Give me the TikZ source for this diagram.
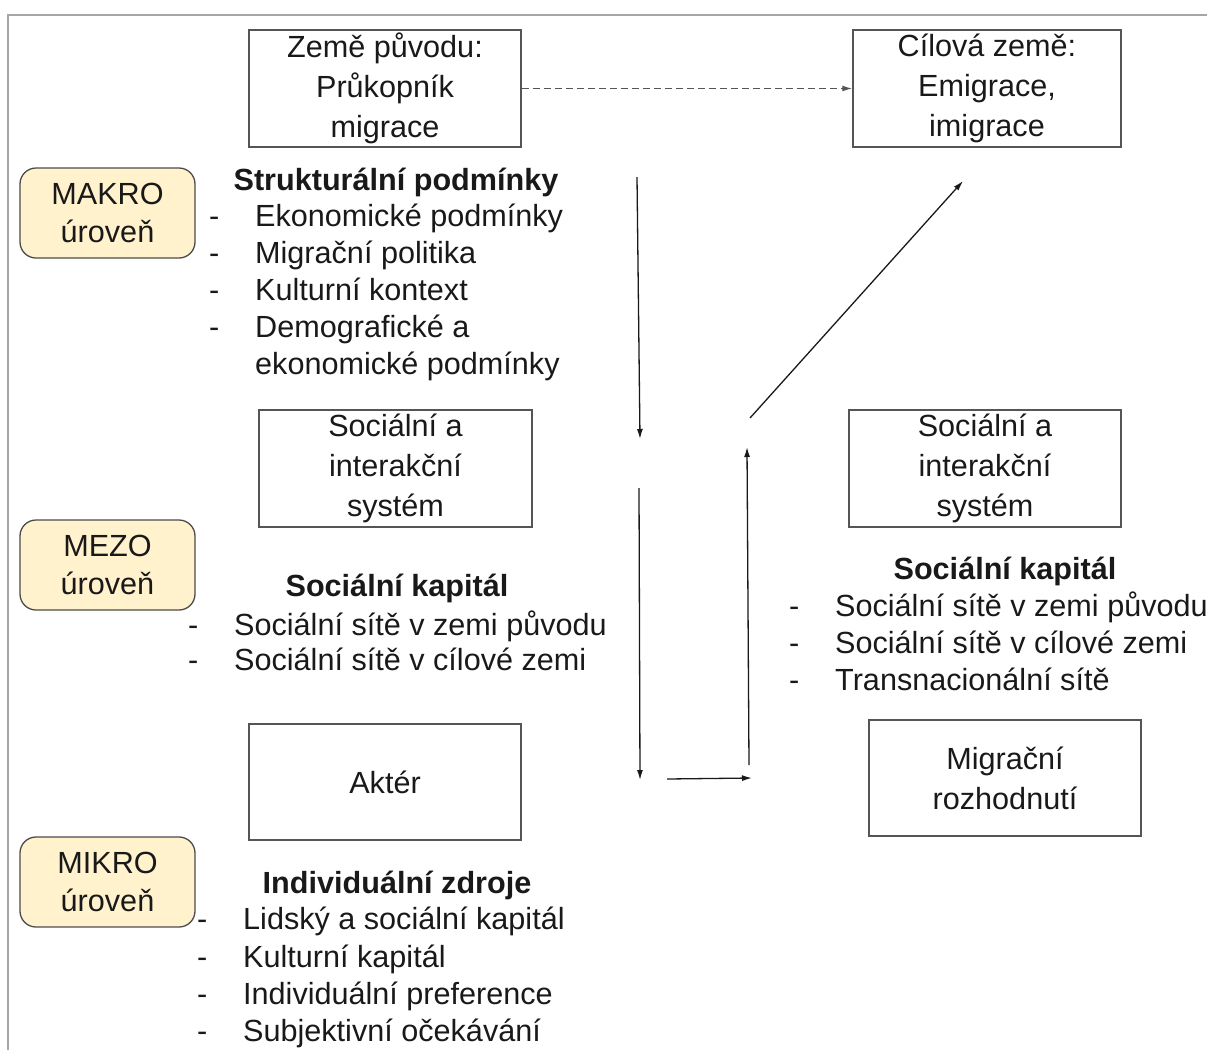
\documentclass[tikz,border=0pt]{standalone}
\usepackage{fontspec}
\setmainfont{Liberation Sans}
\usepackage{xcolor}
\definecolor{Col1}{RGB}{255,242,204}
\definecolor{Col2}{RGB}{85,85,85}
\definecolor{Col3}{RGB}{25,25,25}
\usepackage{tikz}
\usetikzlibrary{arrows.meta}
\tikzstyle{Box}=[draw=Col2,line width=1.5pt,minimum width=272pt,minimum height=117pt,
align=center,inner sep=0pt,text=Col3,font=\fontsize{30.6}{40}\selectfont]
\tikzstyle{Level}=[draw=black!70,fill=Col1,rounded corners=16pt,line width=1.3pt,
minimum width=175pt,minimum height=90pt,align=center,inner sep=0pt,text=Col3,
font=\fontsize{30.6}{38}\selectfont]
\tikzstyle{Head}=[anchor=base,inner sep=0pt,text=Col3,font=\fontsize{30.6}{37}\selectfont\bfseries]
\tikzstyle{Item}=[anchor=base west,inner sep=0pt,text=Col3,font=\fontsize{30.6}{37}\selectfont]
\tikzstyle{Edge}=[draw=Col3,line width=1.3pt,-{Latex[length=10pt,width=6pt]}]
\tikzstyle{Frame}=[draw=black!35,line width=1.5pt]
\newcommand{\Dash}{\makebox[46pt][l]{-}}

\begin{document}
\begin{tikzpicture}[x=1pt,y=-1pt]
        \useasboundingbox(0,0)rectangle(1207,1050);
        \draw[Frame](8,1050)--(8,15)--(1207,15);
        \node[Box](0)at(385,88.5){Země původu:\\Průkopník\\migrace};
        \node[Box,minimum width=268pt](1)at(987,88.5){Cílová země:\\Emigrace,\\imigrace};
        \node[Level](2)at(107.5,213){MAKRO\\úroveň};
        \node[Level](3)at(107.5,565){MEZO\\úroveň};
        \node[Level](4)at(107.5,882){MIKRO\\úroveň};
        \node[Head](5)at(396,190){Strukturální podmínky};
        \node[Item](6)at(209,226){\Dash Ekonomické podmínky};
        \node[Item](7)at(209,263){\Dash Migrační politika};
        \node[Item](8)at(209,300){\Dash Kulturní kontext};
        \node[Item](9)at(209,337){\Dash Demografické a};
        \node[Item](10)at(209,374){\hspace*{46pt}ekonomické podmínky};
        \node[Box,minimum width=273pt](11)at(395.5,468.5){Sociální a\\interakční\\systém};
        \node[Box](12)at(985,468.5){Sociální a\\interakční\\systém};
        \node[Head](13)at(397,596){Sociální kapitál};
        \node[Item](14)at(188,635){\Dash Sociální sítě v zemi původu};
        \node[Item](15)at(188,670){\Dash Sociální sítě v cílové zemi};
        \node[Head](16)at(1005,579){Sociální kapitál};
        \node[Item](17)at(789,616){\Dash Sociální sítě v zemi původu};
        \node[Item](18)at(789,653){\Dash Sociální sítě v cílové zemi};
        \node[Item](19)at(789,690){\Dash Transnacionální sítě};
        \node[Box,minimum height=116pt](20)at(385,782){Aktér};
        \node[Box,minimum height=116pt](21)at(1005,778){Migrační\\rozhodnutí};
        \node[Head](22)at(397,893){Individuální zdroje};
        \node[Item](23)at(197,929){\Dash Lidský a sociální kapitál};
        \node[Item](24)at(197,967){\Dash Kulturní kapitál};
        \node[Item](25)at(197,1004){\Dash Individuální preference};
        \node[Item](26)at(197,1041){\Dash Subjektivní očekávání};
        \coordinate(a)at(637,177);
        \coordinate(b)at(640,439);
        \coordinate(c)at(639,488);
        \coordinate(d)at(640,780);
        \coordinate(e)at(667,779);
        \coordinate(f)at(752,778);
        \coordinate(g)at(749,765);
        \coordinate(h)at(747,447);
        \coordinate(i)at(750,418);
        \coordinate(j)at(963,181);
        \draw[Edge,draw=Col2,dash pattern=on 7pt off 4pt](0.east)--(1.west);
        \draw[Edge](a)--(b);
        \draw[Edge](c)--(d);
        \draw[Edge](e)--(f);
        \draw[Edge](g)--(h);
        \draw[Edge](i)--(j);
    \end{tikzpicture}
\end{document}
